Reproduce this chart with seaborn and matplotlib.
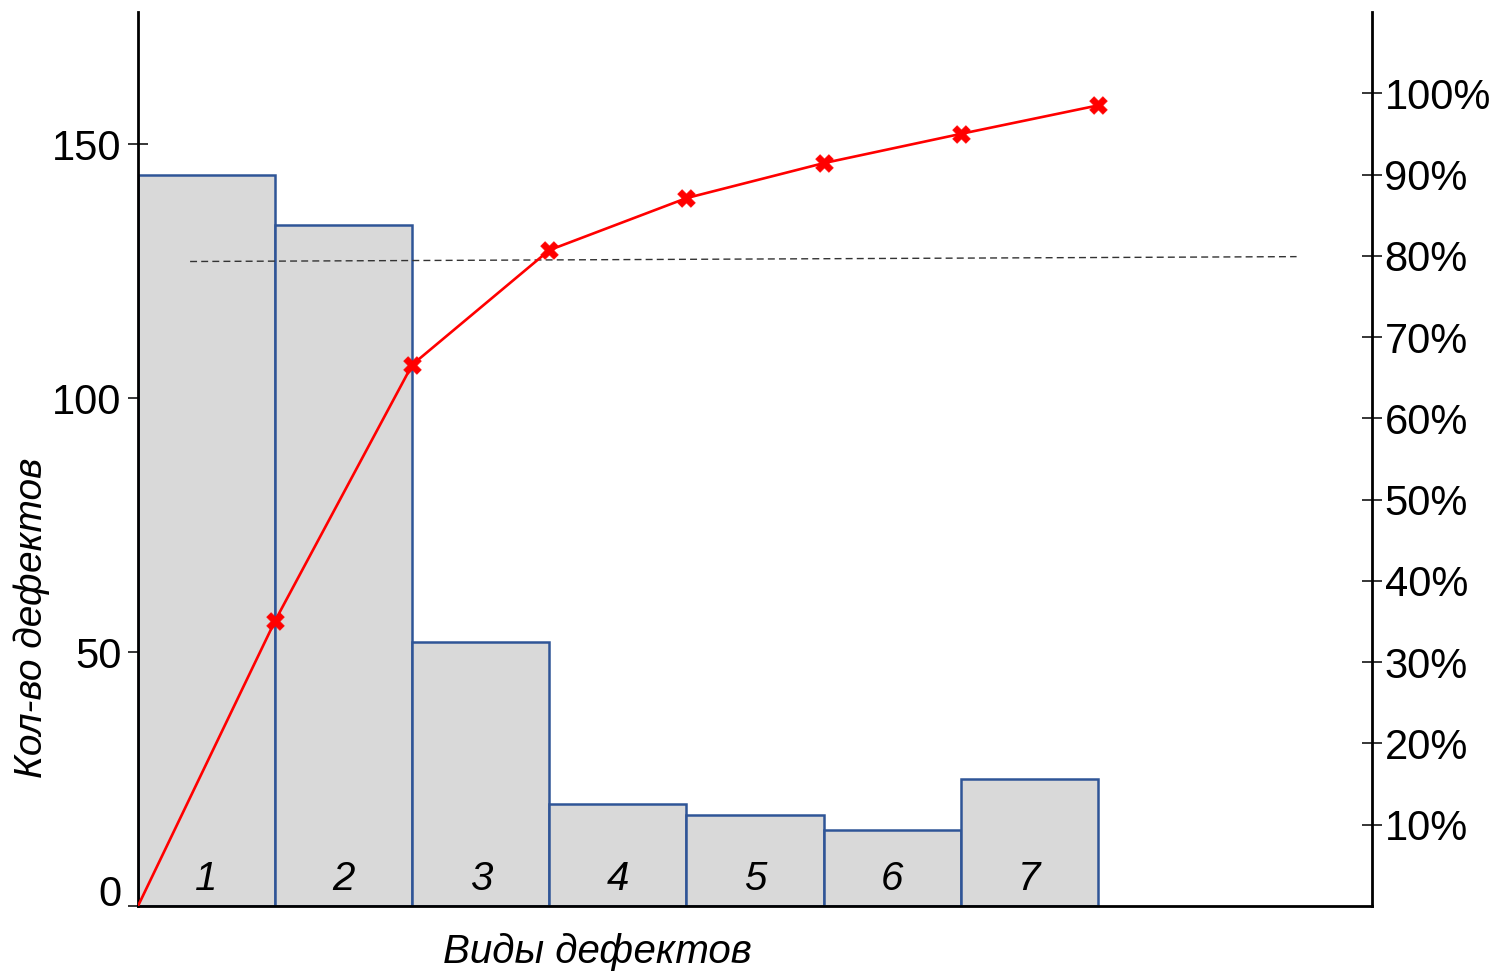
import numpy as np
import matplotlib
matplotlib.use("Agg")
import matplotlib.pyplot as plt
import seaborn as sns

# ==========================================
# данные
# ==========================================
defect_types = ["1", "2", "3", "4", "5", "6", "7"]
defect_counts = [144, 134, 52, 20, 18, 15, 25]
cum_percent = [0, 35.1, 66.6, 80.7, 87.1, 91.4, 95.0, 98.5]

threshold_x = [0.88, 8.95]
threshold_pct = [79.3, 79.9]

left_ticks = [0, 50, 100, 150]
right_ticks = [10, 20, 30, 40, 50, 60, 70, 80, 90, 100]

BAR_FILL = "#d9d9d9"
BAR_EDGE = "#2f5597"
RED = "#ff0000"

sns.set_style("white")
plt.rcParams["font.family"] = ["Liberation Sans", "DejaVu Sans"]
plt.rcParams["text.color"] = "black"
plt.rcParams["axes.labelcolor"] = "black"

fig = plt.figure(figsize=(15.03, 9.71), dpi=100)
ax = fig.add_axes([138 / 1503, 1 - 906 / 971, 1234 / 1503, 894 / 971])

pos = np.arange(1, len(defect_counts) + 1)
sns.barplot(x=pos, y=defect_counts, native_scale=True, width=1,
            color=BAR_FILL, saturation=1, edgecolor=BAR_EDGE,
            linewidth=1.8, ax=ax)

ax.set_xlim(0.5, 9.5)
ax.set_ylim(0, 176)
ax.set_xticks([])
ax.set_yticks(left_ticks)
ax.tick_params(axis="y", direction="inout", length=14, width=1.1,
               labelsize=30, pad=5, colors="black")
ax.get_yticklabels()[0].set_va("baseline")

for s in ["top", "right"]:
    ax.spines[s].set_visible(False)
for s in ["left", "bottom"]:
    ax.spines[s].set_linewidth(2.0)
    ax.spines[s].set_color("black")

# номера дефектов внутри столбцов
for x, lab in zip(pos, defect_types):
    ax.text(x, 3.1, lab, ha="center", va="baseline",
            fontsize=29, style="italic", color="black")

ax.set_xlabel("Виды дефектов", fontsize=29, style="italic")
ax.xaxis.set_label_coords(0.372, -0.03)
ax.set_ylabel("Кол-во дефектов", fontsize=28, style="italic")
ax.yaxis.set_label_coords(-0.071, 0.322)

# кумулятивная кривая
ax2 = ax.twinx()
line_x = np.arange(len(cum_percent)) + 0.5
sns.lineplot(x=threshold_x, y=threshold_pct, ax=ax2, color="#333333",
             linewidth=1.0, dashes=False, zorder=2)
ax2.lines[-1].set_dashes((5, 3))
sns.lineplot(x=line_x, y=cum_percent, ax=ax2, color=RED,
             linewidth=1.9, zorder=3)
sns.scatterplot(x=line_x[1:], y=cum_percent[1:], ax=ax2, color=RED,
                marker="X", s=160, edgecolor=RED, linewidth=0.5, zorder=4)

ax2.set_xlim(0.5, 9.5)
ax2.set_ylim(0, 110)
ax2.set_yticks(right_ticks)
ax2.set_yticklabels([f"{t}%" for t in right_ticks])
ax2.tick_params(axis="y", direction="inout", length=14, width=1.1,
                labelsize=30, pad=2, colors="black")
for s in ["top", "left", "bottom"]:
    ax2.spines[s].set_visible(False)
ax2.spines["right"].set_linewidth(2.0)
ax2.spines["right"].set_color("black")

fig.savefig("out.png", dpi=100)
